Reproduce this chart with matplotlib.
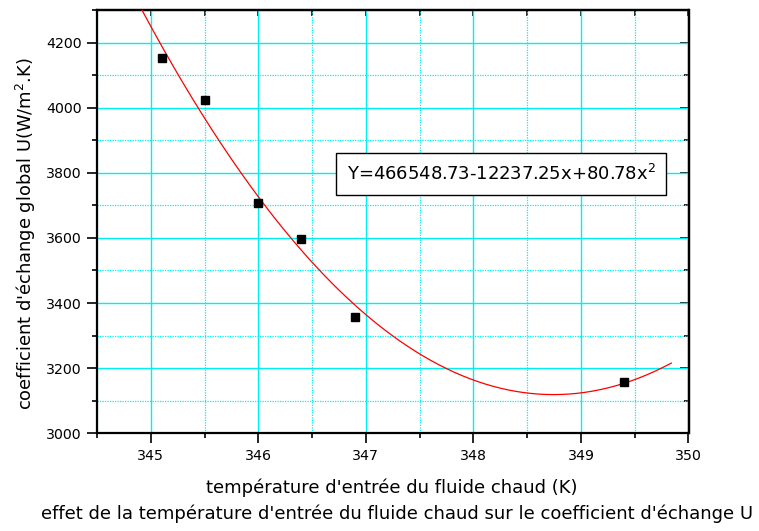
import numpy as np
import matplotlib
matplotlib.use("Agg")
import matplotlib.pyplot as plt
from matplotlib.ticker import MultipleLocator

plt.rcParams['font.family'] = ['DejaVu Sans']
plt.rcParams['mathtext.fontset'] = 'dejavusans'

# Measurements: hot-fluid inlet temperature (K) and overall exchange coefficient
temperature = [345.1, 345.5, 346.0, 346.4, 346.9, 349.4]
coef_U = [4152, 4024, 3707, 3596, 3358, 3157]

x_ticks = [345, 346, 347, 348, 349, 350]
y_ticks = [3000, 3200, 3400, 3600, 3800, 4000, 4200]
x_limits = (344.5, 350)
y_limits = (3000, 4300)
fit_span = (344.5, 349.84)
T_offset = 273  # fit variable x = T - 273

fit_label = r"Y=466548.73-12237.25x+80.78x$^{2}$"
x_label = "température d'entrée du fluide chaud (K)"
y_label = r"coefficient d'échange global U(W/m$^{2}$.K)"
caption = "effet de la température d'entrée du fluide chaud sur le coefficient d'échange U"

# Second-order polynomial fit of the measurements
T = np.asarray(temperature)
U = np.asarray(coef_U)
coeffs = np.polyfit(T - T_offset, U, 2)
T_fit = np.linspace(fit_span[0], fit_span[1], 300)
U_fit = np.polyval(coeffs, T_fit - T_offset)

fig = plt.figure(figsize=(7.59, 5.31), dpi=100)
ax = fig.add_axes([97 / 759, 1 - 433.3 / 531, (688.5 - 97) / 759, (433.3 - 10) / 531])

cyan = '#00f0f0'
ax.set_xlim(*x_limits)
ax.set_ylim(*y_limits)
ax.set_xticks(x_ticks)
ax.set_yticks(y_ticks)
ax.xaxis.set_minor_locator(MultipleLocator(0.5))
ax.yaxis.set_minor_locator(MultipleLocator(100))
ax.grid(which='major', color=cyan, lw=1.0, ls='-')
ax.grid(which='minor', color=cyan, lw=0.9, ls=(0, (1, 1)))
ax.set_axisbelow(True)

ax.plot(T_fit, U_fit, color='red', lw=0.9, zorder=3)
ax.plot(T, U, ls='none', marker='s', ms=6, color='black', zorder=4)

for sp in ax.spines.values():
    sp.set_linewidth(1.6)

ax.tick_params(which='both', direction='out', top=False, right=False,
               labelsize=10.2, pad=4, width=1.2)
ax.tick_params(which='major', length=7)
ax.tick_params(which='minor', length=3.6)

# inward ticks on top and right edges
ax2 = ax.secondary_xaxis('top')
ax2.set_xticks(x_ticks)
ax2.xaxis.set_minor_locator(MultipleLocator(0.5))
ax2.tick_params(which='both', direction='in', labeltop=False, width=1.2)
ax2.tick_params(which='major', length=4.5)
ax2.tick_params(which='minor', length=4.0)
ax2.spines['top'].set_linewidth(1.6)
ax3 = ax.secondary_yaxis('right')
ax3.set_yticks(y_ticks)
ax3.yaxis.set_minor_locator(MultipleLocator(100))
ax3.tick_params(which='both', direction='in', labelright=False, width=1.2)
ax3.tick_params(which='major', length=6.5)
ax3.tick_params(which='minor', length=3.3)
ax3.spines['right'].set_linewidth(1.6)

ax.text(0.683, 0.612, fit_label, transform=ax.transAxes, ha='center', va='center',
        fontsize=13.0, zorder=5,
        bbox=dict(boxstyle='square,pad=0.6', facecolor='white', edgecolor='black', lw=1.0))

fig.text(392 / 759, 1 - 488 / 531, x_label, ha='center', va='center', fontsize=13.0)
fig.text(397 / 759, 1 - 514 / 531, caption, ha='center', va='center', fontsize=12.95)
fig.text(26 / 759, 1 - 234 / 531, y_label, ha='center', va='center', fontsize=12.9,
         rotation=90)

fig.savefig('out.png', dpi=100)
